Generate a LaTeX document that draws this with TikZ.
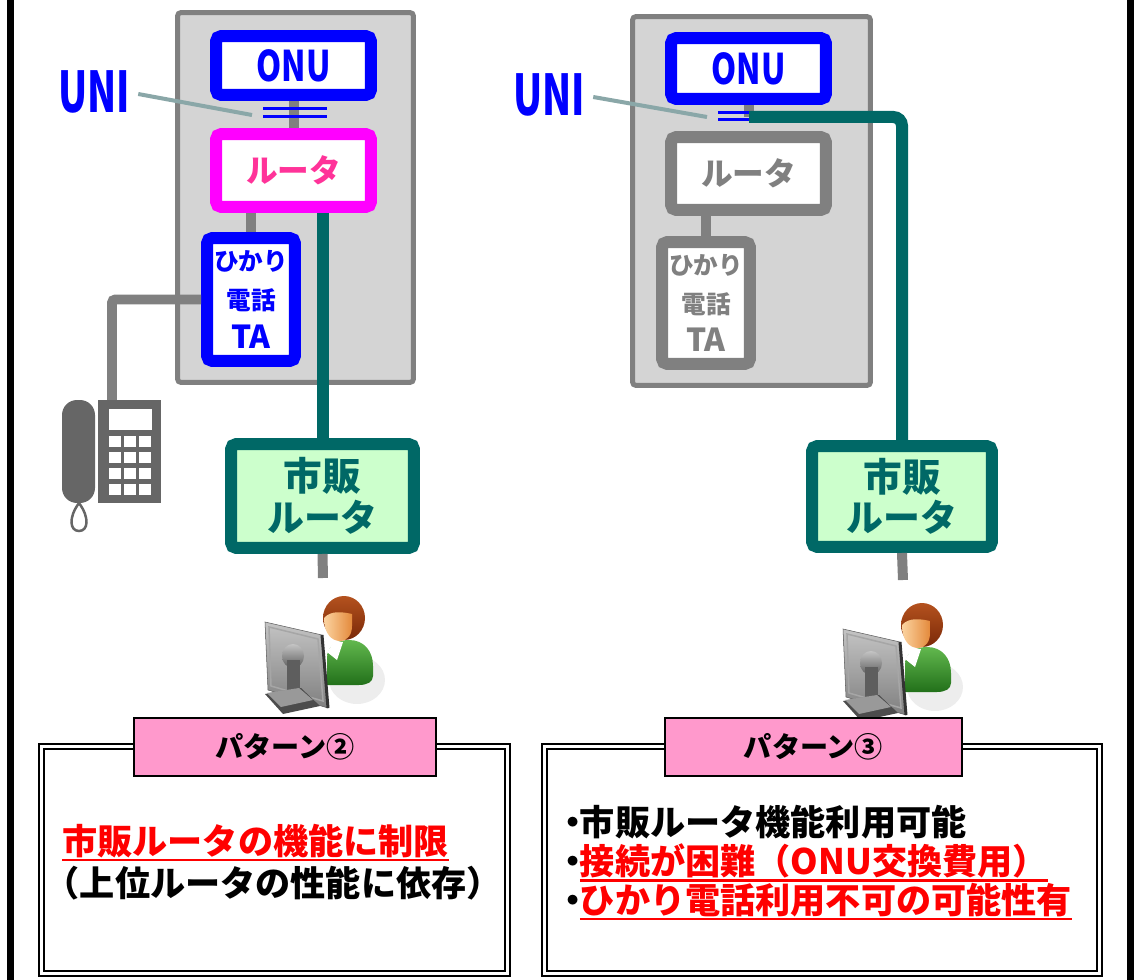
\documentclass[tikz,border=0pt]{standalone}
\usepackage{fontspec}
\setmainfont{Noto Sans CJK JP}
\usepackage{graphicx}
\usepackage{xcolor}
\usepackage{tikz}
\usetikzlibrary{calc}
\definecolor{onuBlue}{HTML}{0000FF}
\definecolor{rtMagenta}{HTML}{FF00FF}
\definecolor{rtPink}{HTML}{FF3399}
\definecolor{lanTeal}{HTML}{006866}
\definecolor{shopGreen}{HTML}{CCFFCC}
\definecolor{caseGray}{HTML}{D4D4D4}
\definecolor{wireGray}{HTML}{808080}
\definecolor{telGray}{HTML}{666666}
\definecolor{uniLead}{HTML}{8AA7A8}
\definecolor{tagPink}{HTML}{FF99CC}
\definecolor{warnRed}{HTML}{FF0000}
\definecolor{hairDk}{HTML}{7A2808}
\definecolor{hairLt}{HTML}{B4521E}
\definecolor{skinLt}{HTML}{FBD3A0}
\definecolor{skinDk}{HTML}{E48A3C}
\definecolor{suitLt}{HTML}{62B84E}
\definecolor{suitDk}{HTML}{22701A}
\definecolor{monLt}{HTML}{C4C4C4}
\definecolor{monDk}{HTML}{5E5E5E}
\newcommand{\fsz}[2]{\fontsize{#1}{#2}\selectfont}
\newcommand{\narrow}[2][0.8]{\scalebox{#1}[1]{#2}}
% red text with a heavy underline
\newsavebox{\warnbox}
\newcommand{\warn}[1]{{\color{warnRed}\sbox{\warnbox}{#1}%
  \rlap{\rule[-4pt]{\wd\warnbox}{1.5pt}}\usebox{\warnbox}}}
\newcommand{\dotitem}{\hspace*{-0.2em}・\hspace*{-0.3em}}
\tikzset{
  case/.style={draw=wireGray,fill=caseGray,line width=0.1cm,rounded corners=2pt},
  unit/.style={draw=onuBlue,fill=white,line width=0.24cm,rounded corners=3pt,
    text=onuBlue,inner sep=0pt,align=center},
  homerouter/.style={unit,draw=rtMagenta,text=rtPink},
  offunit/.style={unit,draw=wireGray,text=wireGray},
  shop/.style={unit,draw=lanTeal,fill=shopGreen,text=lanTeal},
  wire/.style={draw=wireGray,line width=0.2cm},
  lan/.style={draw=lanTeal,line width=0.24cm,rounded corners=5pt},
  port/.style={draw=onuBlue,line width=0.06cm},
  lead/.style={draw=uniLead,line width=0.08cm},
  unilabel/.style={text=onuBlue,font=\bfseries\fsz{32}{32},inner sep=0pt},
  panel/.style={draw=black,double=white,double distance=0.05cm,line width=0.05cm,fill=white},
  tag/.style={draw=black,fill=tagPink,line width=0.04cm,font=\bfseries\fsz{16}{16}},
  notetext/.style={inner sep=0pt,align=left,anchor=west},
  pics/user/.style={code={
    % floor shadow
    \fill[black!7] (14,62) ellipse [x radius=28, y radius=24];
    % body and collar
    \shade[top color=suitLt,bottom color=suitDk] (-16,67) -- (-16,40)
      .. controls (-16,28) and (-6,22) .. (6,22)
      .. controls (21,22) and (30,33) .. (30,48) -- (30,58)
      .. controls (30,64) and (24,67) .. (16,67) -- cycle;
    \fill[white] (-16,34) -- (-8,23) -- (0,24) -- (-6,42) -- cycle;
    % head
    \shade[top color=hairLt,bottom color=hairDk] (1,0) ellipse [x radius=21, y radius=22];
    \shade[left color=skinLt,right color=skinDk] (-19,0)
      .. controls (-19,16) and (-11,23) .. (-3,23)
      .. controls (5,23) and (9,16) .. (9,8) -- (9,-4)
      .. controls (0,-6) and (-12,-8) .. (-19,0) -- cycle;
    % monitor from behind
    \shade[top color=monLt,bottom color=black!50,draw=monDk,line width=0.3pt]
      (-78,4) -- (-21,17) -- (-15,90) -- (-75,72) -- cycle;
    \draw[black!35,line width=0.03cm] (-74,9) -- (-25,21) -- (-20,83) -- (-72,68) -- cycle;
    \draw[black!80,line width=0.06cm] (-21,17) -- (-15,90);
    \shade[top color=monLt,bottom color=monDk] (-50,38) ellipse [x radius=11, y radius=12];
    \fill[monDk] (-56,42) -- (-43,42) -- (-43,74) -- (-56,74) -- cycle;
    \fill[black!70] (-78,76) -- (-42,70) -- (-23,88) -- (-60,96) -- cycle;
    \fill[black!40] (-76,75) -- (-44,70) -- (-30,82) -- (-62,89) -- cycle;
  }}
}

\begin{document}
\begin{tikzpicture}[x=0.02cm,y=-0.02cm]
  \useasboundingbox (0,0) rectangle (1134,980);
  \fill (7,0) rectangle (14,980);
  \fill (1127,0) rectangle (1134,980);

  % left: router inside the home gateway
  \node[case,minimum width=4.72cm,minimum height=7.4cm] (caseL) at (295.5,197.5) {};
  \node[unit,minimum width=3.1cm,minimum height=1.18cm,font=\bfseries\fsz{24}{24}] (onuL) at (293.5,65.5) {\narrow[0.76]{ONU}};
  \node[homerouter,minimum width=3.1cm,minimum height=1.46cm,font=\bfseries\fsz{18}{18}] (routerL) at (293.5,170.5) {ルータ};
  \node[unit,minimum width=1.76cm,minimum height=2.46cm,font=\bfseries\fsz{14}{22}] (taL) at (251,299.5) {ひかり\\電話\\{\fsz{18}{22}TA}};
  \node[shop,minimum width=3.66cm,minimum height=2.08cm,font=\bfseries\fsz{21}{23}] (shihanL) at (322.5,496) {{\fsz{22}{23}市販}\\ルータ};
  \node[unilabel] (uniTagL) at (94,92) {\narrow[0.68]{UNI}};
  \coordinate (uniL) at (295,113);
  \coordinate (phone) at (112,401);
  \coordinate (userL) at (323,578);

  % right: router bypassed at the UNI
  \node[case,minimum width=4.76cm,minimum height=7.38cm] (caseR) at (751.5,201) {};
  \node[unit,minimum width=3.1cm,minimum height=1.22cm,font=\bfseries\fsz{24}{24}] (onuR) at (748.5,68.5) {\narrow[0.76]{ONU}};
  \node[offunit,minimum width=3.1cm,minimum height=1.46cm,font=\bfseries\fsz{18}{18}] (routerR) at (748.5,173.5) {ルータ};
  \node[offunit,minimum width=1.76cm,minimum height=2.44cm,font=\bfseries\fsz{14}{22}] (taR) at (706,303) {ひかり\\電話\\{\fsz{18}{22}TA}};
  \node[shop,minimum width=3.6cm,minimum height=2.02cm,font=\bfseries\fsz{21}{23}] (shihanR) at (902,496.5) {{\fsz{22}{23}市販}\\ルータ};
  \node[unilabel] (uniTagR) at (549,95) {\narrow[0.68]{UNI}};
  \coordinate (uniR) at (749,117);
  \coordinate (userR) at (903,580);

  % cabling
  \draw[wire] (onuL.south) -- (routerL.north);
  \draw[wire] (routerL.south -| taL) -- (taL.north);
  \draw[wire,rounded corners=2pt] (taL.west) -| (phone);
  \draw[wire] (shihanL.south) -- (userL);
  \draw[wire] (onuR.south) -- (onuR.south |- uniR);
  \draw[wire] (routerR.south -| taR) -- (taR.north);
  \draw[wire] (shihanR.south) -- (userR);

  \draw[port] ($(uniL)+(-32,-4)$) -- ++(64,0) ($(uniL)+(-32,4)$) -- ++(64,0);
  \draw[port] ($(uniR)+(-31,-4)$) -- ++(63,0) ($(uniR)+(-31,3)$) -- ++(63,0);
  \draw[lead] ($(uniTagL.east)+(8,2)$) -- ($(uniL)+(-43,2)$);
  \draw[lead] ($(uniTagR.east)+(8,2)$) -- ($(uniR)+(-42,0)$);

  \draw[lan] (routerL.south -| shihanL) -- (shihanL.north);
  \draw[lan] (uniR) -| (shihanR.north);

  % telephone
  \fill[telGray,rounded corners=0.3cm] (62,400) rectangle (95,503);
  \fill[telGray] (98,400) rectangle (161,503);
  \fill[white] (109,409) rectangle (152,430);
  \foreach \kx in {109,124,139}
    \foreach \ky in {436,452,468,484}
      \fill[white] (\kx,\ky) rectangle ++(12,11);
  \draw[telGray,line width=0.05cm] (79,503) .. controls (68,518) and (70,531) .. (79,531)
    .. controls (88,531) and (90,518) .. (79,503);

  % users
  \pic at (343,618) {user};
  \pic at (921,625) {user};

  % pattern notes
  \node[panel,minimum width=9.32cm,minimum height=4.54cm] (noteL) at (274.5,860) {};
  \node[tag,minimum width=6.04cm,minimum height=1.16cm] (tagL) at (285,747) {パターン②};
  \node[notetext,font=\bfseries\fsz{20}{24}] (textL) at (62,862)
    {\warn{市販ルータの機能に制限}\\\hspace*{-0.5em}（上位ルータの性能に依存）};

  \node[panel,minimum width=11.1cm,minimum height=4.54cm] (noteR) at (822,860) {};
  \node[tag,minimum width=5.94cm,minimum height=1.16cm] (tagR) at (813.5,747) {パターン③};
  \node[notetext,font=\bfseries\fsz{20}{22}] (textR) at (562,863)
    {\dotitem 市販ルータ機能利用可能\\\dotitem\warn{接続が困難（ONU交換費用）}\\\dotitem\warn{ひかり電話利用不可の可能性有}};
\end{tikzpicture}
\end{document}
